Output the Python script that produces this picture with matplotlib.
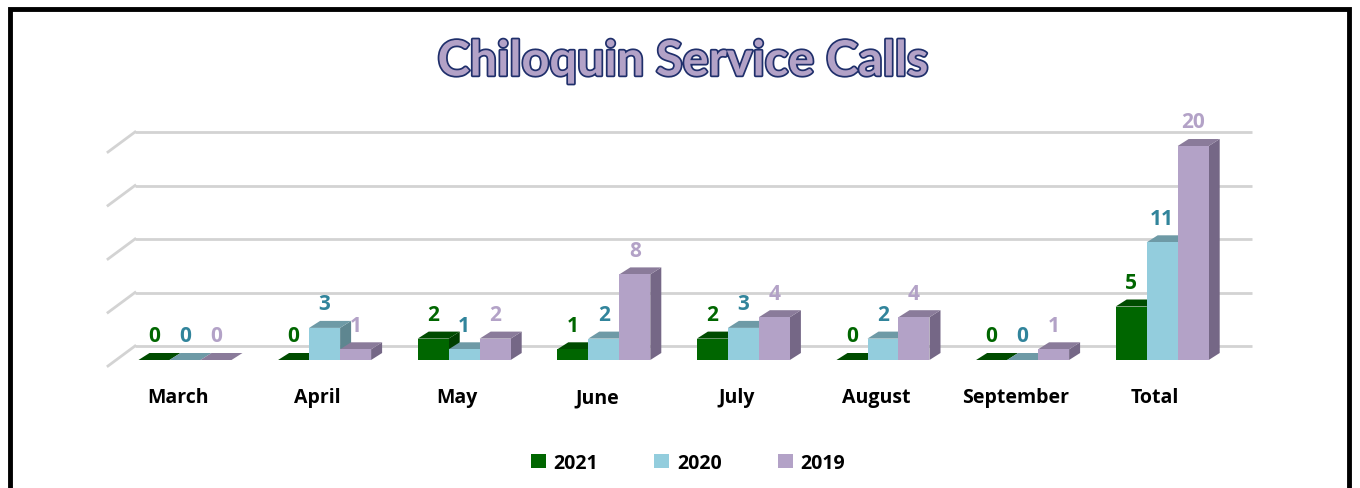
import matplotlib.pyplot as plt
import matplotlib.patheffects as pe
from matplotlib.patches import Polygon, Rectangle, Patch
import numpy as np

months = ['March', 'April', 'May', 'June', 'July', 'August', 'September', 'Total']
years = ['2021', '2020', '2019']
calls_2021 = [0, 0, 2, 1, 2, 0, 0, 5]
calls_2020 = [0, 3, 1, 2, 3, 2, 0, 11]
calls_2019 = [0, 1, 2, 8, 4, 4, 1, 20]
grid_vals = [0, 5, 10, 15, 20]

front = ['#006600', '#93CDDD', '#B3A2C7']
top = ['#004C00', '#6E9AA6', '#8A7B9A']
side = ['#003F00', '#5E8690', '#756786']
lab_col = ['#006600', '#31849B', '#B3A2C7']

# scale: one category = 139.6 px, one call = 10.7 px
px_x, px_y = 139.6, 10.7
W, H = 1360, 489
fig = plt.figure(figsize=(13.6, 4.89), dpi=100)
ax = fig.add_axes([0, 0, 1, 1])
ax.set_xlim(-185 / px_x, (W - 185) / px_x)
ax.set_ylim((361 - H) / px_y, 361 / px_y)
ax.axis('off')

bw = 31 / px_x
ddx, ddy = 11 / px_x, 7 / px_y

# back wall gridlines and floor diagonals
gy0 = 14 / px_y
gx0, gx1 = -50 / px_x, 1067 / px_x
for v in grid_vals:
    y = v + gy0
    ax.plot([gx0, gx1], [y, y], color='#D3D3D3', lw=2, zorder=1, solid_capstyle='butt')
    ax.plot([gx0 - 27 / px_x, gx0], [y - 20 / px_y, y], color='#D3D3D3', lw=2, zorder=1)

series = [calls_2021, calls_2020, calls_2019]
z = 2
for i in range(len(months)):
    for j, vals in enumerate(series):
        v = vals[i]
        x0 = i - 1.5 * bw + j * bw
        x1 = x0 + bw
        ax.add_patch(Polygon([(x1, 0), (x1 + ddx, ddy), (x1 + ddx, v + ddy), (x1, v)],
                             closed=True, fc=side[j], ec='none', zorder=z))
        ax.add_patch(Polygon([(x0, v), (x0 + ddx, v + ddy), (x1 + ddx, v + ddy), (x1, v)],
                             closed=True, fc=top[j], ec='none', zorder=z + 1))
        ax.add_patch(Rectangle((x0, 0), bw, v, fc=front[j], ec='none', zorder=z + 2))
        ax.text(x0 + bw / 2, v + 2.25, str(v), ha='center', va='center',
                fontsize=15, fontweight='bold', color=lab_col[j], family='Open Sans', zorder=50)
        z += 3
    ax.text(i - 0.05, -3.5, months[i], ha='center', va='center', fontsize=14,
            fontweight='bold', color='black', family='Open Sans')

fig.text(683 / W, 1 - 62 / H, 'Chiloquin Service Calls', ha='center', va='center',
         fontsize=35, fontweight='bold', family='Lato', color='#B3A2C7',
         path_effects=[pe.Stroke(linewidth=2.5, foreground='#1F2F6B'), pe.Normal()])

handles = [Patch(fc=c, ec='none') for c in front]
fig.legend(handles, years, ncol=3, loc='center', bbox_to_anchor=(688 / W, 1 - 464 / H),
           frameon=False, handlelength=0.75, handleheight=0.75, handletextpad=0.4,
           columnspacing=2.9, prop={'family': 'Open Sans', 'weight': 'bold', 'size': 14})

# black frame around the chart area
fig.patches.append(Rectangle((10 / W, -0.2), 1339 / W, 1.2 - 10 / H, transform=fig.transFigure,
                             fill=False, ec='black', lw=3.5, clip_on=False))

plt.savefig('out.png', dpi=100)
